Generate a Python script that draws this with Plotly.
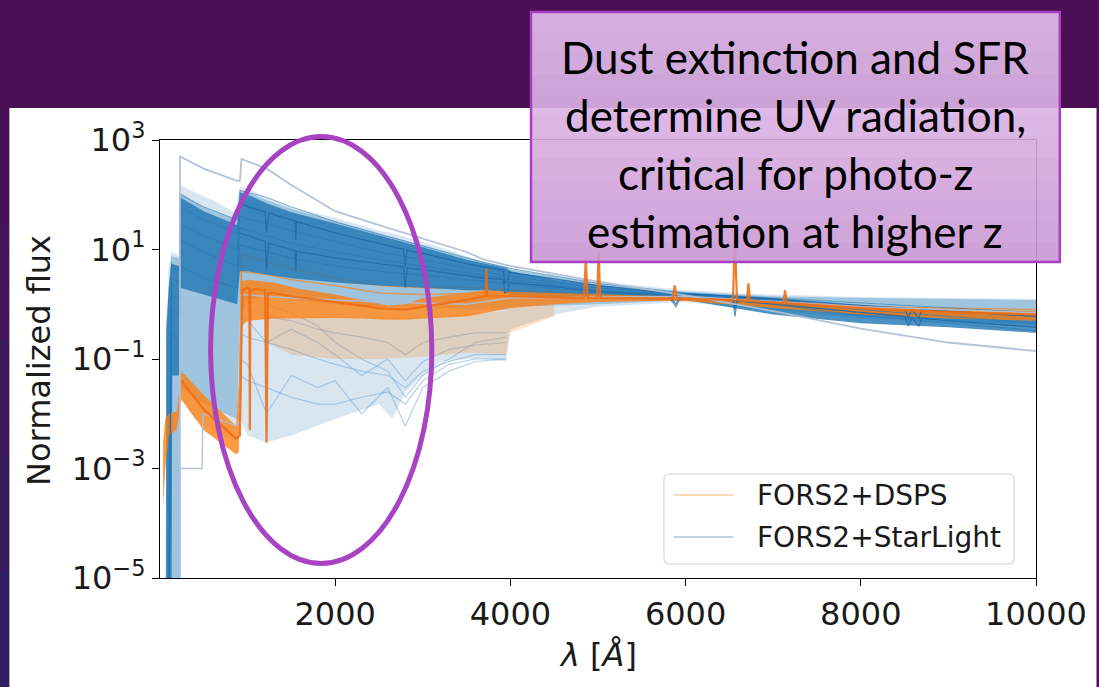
import plotly.graph_objects as go

# ---------------- data (wavelength in Angstrom, normalized flux) ----------------
# FORS2+StarLight : outer (faint) envelope
SL_WL = [60, 95, 130, 200, 215, 226, 228, 400, 600, 880, 912, 1000, 1216, 1500, 2000, 2500, 2650, 2800, 3000, 3200,
         3500, 3700, 3950, 4000, 4300, 4600, 5000, 6000, 7000, 8000, 9000, 10000]
SL_FAINT_HI = [1e-5, 4, 9, 8, 7.5, 7, 150, 110, 80, 45, 140, 130, 90, 60, 38, 22, 20, 17, 14, 11,
               7.5, 6, 5, 4.6, 3.8, 3.2, 2.6, 1.8, 1.5, 1.35, 1.3, 1.25]
SL_FAINT_LO = [1e-6, 1e-6, 1e-6, 1e-6, 1e-6, 1e-6, 0.02, 8e-3, 5e-3, 3e-3, 8e-3, 4e-3, 3e-3, 4e-3, 8e-3, 1.5e-2, 8e-3, 2.5e-2, 5e-2, 9e-2,
               0.1, 0.1, 0.09, 0.35, 0.5, 0.7, 0.9, 1.1, 0.75, 0.55, 0.45, 0.38]

# FORS2+StarLight : medium-density envelope
MID_WL = [70, 130, 140, 215, 226, 228, 500, 880, 912, 1000, 1216, 1500, 2000, 2500, 3000, 3500, 3950, 4000,
          5000, 6000, 7000, 8000, 9000, 10000]
MID_HI = [0.5, 8, 7.5, 7, 6, 110, 60, 35, 120, 110, 80, 55, 33, 20, 12, 7, 4.8, 4.3, 2.4, 1.7, 1.4, 1.3, 1.25, 1.2]
MID_LO = [1e-6, 1e-6, 1e-6, 1e-6, 1e-6, 0.03, 0.015, 0.008, 0.6, 1.2, 1.4, 1.2, 1.0, 0.9, 0.9, 0.8, 0.8, 0.9,
          1.0, 1.2, 0.8, 0.6, 0.5, 0.42]

# FORS2+StarLight : dense core
CORE_WL = [70, 100, 130, 140, 215, 226, 228, 500, 880, 912, 1000, 1216, 1500, 2000, 2500, 3000, 3500, 3700, 3950,
           4000, 4500, 5000, 5500, 6000, 7000, 8000, 9000, 10000]
CORE_HI = [0.3, 2, 6, 5.5, 5, 4.5, 90, 50, 28, 110, 100, 70, 48, 30, 18, 11, 6.5, 5.5, 4.6,
           4, 2.8, 2.2, 1.8, 1.6, 1.3, 0.85, 0.72, 0.62]
CORE_LO = [1e-6, 1e-6, 1e-6, 0.05, 0.05, 0.05, 2, 1.5, 1, 4, 4, 3.5, 3, 2.5, 2.2, 2, 1.8, 1.8, 1.7,
           1.5, 1.35, 1.3, 1.25, 1.2, 0.65, 0.45, 0.38, 0.3]

# FORS2+DSPS : dense core
DS_WL = [35, 60, 100, 190, 245, 500, 870, 900, 930, 1000, 1300, 1600, 2000, 2300, 2600, 2800, 3000, 3500, 3700,
         4000, 4500, 5000, 5500, 6000, 7000, 8000, 9000, 10000]
DS_HI = [3e-3, 8e-3, 1e-2, 1.1e-2, 6e-2, 2.2e-2, 6e-3, 4e-2, 2.6, 2.8, 2.5, 1.9, 1.5, 1.2, 0.95, 1.0, 1.3, 1.6, 1.8,
         1.7, 1.6, 1.5, 1.45, 1.4, 1.15, 0.95, 0.82, 0.75]
DS_LO = [2e-4, 1e-3, 4e-3, 5e-3, 1.8e-2, 5e-3, 1.8e-3, 2e-3, 0.4, 0.5, 0.55, 0.56, 0.56, 0.55, 0.52, 0.52, 0.55, 0.6, 0.7,
         0.85, 1.0, 1.1, 1.15, 1.15, 0.85, 0.65, 0.55, 0.5]

# FORS2+DSPS : faint lower tail
DSF_WL = [1230, 1500, 2000, 2500, 3000, 3500, 3950, 4000, 4500]
DSF_HI = [0.6, 0.6, 0.6, 0.56, 0.58, 0.65, 0.75, 0.9, 1.0]
DSF_LO = [0.2, 0.12, 0.1, 0.1, 0.11, 0.13, 0.12, 0.3, 0.6]

# individual StarLight spectra (grey extremes)
GREY1_WL = [200, 226, 228, 500, 880, 912, 930, 1216, 1500, 2000, 2500, 3000, 3500, 3700, 4000, 5000, 6000, 7000,
            8000, 9000, 10000]
GREY1 = [1e-6, 1e-6, 500, 300, 180, 180, 450, 300, 150, 50, 28, 16, 9, 6.5, 5, 2.6, 1.45, 0.75, 0.36, 0.2, 0.14]
GREY2_WL = [190, 226, 228, 480, 490, 880, 912, 930, 1500, 2500, 3500, 4000, 6000, 8000, 10000]
GREY2 = [1e-6, 1e-6, 1e-3, 1e-3, 1e-2, 6e-3, 8e-3, 1.5, 1.3, 1.1, 1.0, 1.3, 1.4, 0.9, 0.7]

# individual StarLight spectra (blue, smooth)
BL_WL = [100, 130, 226, 228, 500, 880, 912, 1216, 1500, 2000, 2500, 3000, 3500, 3700, 4000, 5000, 6000, 7000,
         8000, 9000, 10000]
BL1 = [1e-6, 5, 4, 100, 60, 35, 120, 90, 60, 32, 19, 11.5, 7, 5.8, 4.5, 2.4, 1.6, 1.3, 1.05, 0.85, 0.7]
BL2 = [1e-6, 3, 2.5, 60, 35, 20, 70, 50, 35, 20, 13, 8.5, 5.5, 4.8, 3.8, 2.2, 1.55, 1.25, 0.95, 0.75, 0.6]
BL3 = [1e-6, 1.5, 1.2, 30, 18, 10, 40, 30, 22, 14, 9, 6.5, 4.5, 4, 3.2, 2, 1.5, 1.15, 0.8, 0.6, 0.45]
BL4 = [1e-6, 0.8, 0.6, 15, 9, 5, 25, 18, 13, 9, 6.5, 5, 3.8, 3.4, 2.8, 1.8, 1.45, 1.05, 0.7, 0.5, 0.38]
BL5 = [1e-6, 0.3, 0.2, 5, 3, 2, 12, 9, 7, 5, 4, 3.4, 2.8, 2.6, 2.3, 1.6, 1.4, 1.0, 0.62, 0.45, 0.33]

# individual StarLight spectra (blue, with absorption features)
BX_WL = [912, 1000, 1200, 1216, 1240, 1500, 1540, 1550, 1560, 2000, 2500, 2780, 2800, 2820, 3000, 3500, 3700, 3920,
         3934, 3968, 3990, 4000, 4500, 5000, 5800, 5890, 5950, 6000, 6540, 6563, 6590, 7000, 8000, 8500, 8542, 8580,
         8662, 8700, 9000, 10000]
BX1 = [70, 60, 48, 20, 46, 35, 33, 15, 32, 20, 13, 10, 5, 9.5, 8.5, 5.5, 4.8, 4.2, 2.5, 2.6, 4.0, 3.8, 2.9, 2.2,
       1.6, 1.0, 1.55, 1.55, 1.4, 0.8, 1.35, 1.25, 0.95, 0.85, 0.55, 0.82, 0.55, 0.8, 0.75, 0.6]
BX2 = [20, 18, 14, 4, 13, 10, 9.5, 4, 9.3, 7, 5.5, 4.8, 2, 4.6, 4.3, 3.3, 3.0, 2.8, 1.6, 1.7, 2.6, 2.5, 2.1, 1.7,
       1.45, 0.9, 1.42, 1.4, 1.2, 0.6, 1.15, 1.0, 0.7, 0.6, 0.4, 0.58, 0.4, 0.56, 0.5, 0.38]

# faint, dusty StarLight spectra (end near 4000 A)
LB_WL = [912, 1000, 1216, 1500, 1800, 2000, 2300, 2600, 2800, 3000, 3300, 3600, 3950]
LB1 = [0.3, 0.25, 0.2, 0.15, 0.1, 0.08, 0.06, 0.05, 0.03, 0.06, 0.09, 0.12, 0.12]
LB2 = [0.05, 0.04, 0.03, 0.02, 0.015, 0.015, 0.02, 0.025, 0.015, 0.04, 0.08, 0.1, 0.1]
LB3 = [1.0, 0.8, 0.6, 0.5, 0.35, 0.3, 0.25, 0.2, 0.12, 0.2, 0.25, 0.3, 0.3]
LB4 = [2, 1.5, 1.0, 0.7, 0.4, 0.2, 0.1, 0.06, 0.02, 0.05, 0.1, 0.2, 0.25]
LB5 = [0.1, 0.08, 0.01, 0.05, 0.03, 0.04, 0.01, 0.03, 0.006, 0.03, 0.06, 0.09, 0.1]
LB6 = [0.6, 0.5, 0.2, 0.35, 0.2, 0.12, 0.05, 0.1, 0.04, 0.09, 0.15, 0.18, 0.2]

# individual DSPS spectra (orange) with Lyman absorption and emission lines
OR_WL = [245, 500, 870, 912, 940, 1000, 1020, 1026, 1032, 1100, 1200, 1216, 1232, 1300, 1500, 2000, 2500, 2800,
         3000, 3500, 3700, 3720, 3727, 3734, 4000, 4500, 4840, 4861, 4880, 4990, 5007, 5025, 5850, 5876, 5900,
         6540, 6563, 6586, 6700, 6717, 6735, 7115, 7136, 7155, 8000, 9000, 10000]
OR1 = [0.04, 0.012, 3.5e-3, 4e-3, 1.8, 2.0, 1.9, 5e-3, 1.8, 1.9, 1.8, 3e-3, 1.6, 1.6, 1.4, 1.1, 0.85, 0.8,
       0.9, 1.2, 1.4, 1.4, 4.5, 1.4, 1.4, 1.35, 1.3, 7, 1.3, 1.3, 9, 1.3, 1.25, 2.2, 1.25,
       1.2, 16, 1.2, 1.15, 2.4, 1.15, 1.05, 1.8, 1.05, 0.85, 0.72, 0.65]
OR2_WL = [912, 930, 1216, 1500, 2000, 2500, 3000, 3700, 4000, 5000, 6000, 8000, 10000]
OR2 = [0.05, 8, 6, 4.5, 3, 2.2, 2, 2, 1.8, 1.5, 1.4, 0.9, 0.8]
OR3 = [0.02, 4, 3.5, 2.8, 2.2, 1.6, 1.5, 1.6, 1.5, 1.35, 1.3, 0.8, 0.7]

X_TICKS = [2000, 4000, 6000, 8000, 10000]
Y_TICKS = [1e-5, 1e-3, 1e-1, 1e1, 1e3]
Y_TICK_TEXT = ["10<sup>−5</sup>", "10<sup>−3</sup>", "10<sup>−1</sup>", "10<sup>1</sup>", "10<sup>3</sup>"]

LEGEND_NAMES = ["FORS2+DSPS", "FORS2+StarLight"]
BOX_LINES = ["Dust extinction and SFR", "determine UV radiation,", "critical for photo-z", "estimation at higher z"]

# ---------------- layout geometry (pixels of the 1099x687 page) ----------------
W, H = 1099, 687
L, R, T, B = 160, 1043, 140, 578


def px(x):
    return (x - L) / (R - L)


def py(y):
    return (B - y) / (B - T)


def band(wl, hi, lo, color):
    return go.Scatter(x=list(wl) + list(wl)[::-1], y=list(hi) + list(lo)[::-1], mode="lines",
                      line=dict(width=0), fill="toself", fillcolor=color, hoverinfo="skip", showlegend=False)


def line(wl, fl, color, width=1.2):
    return go.Scatter(x=wl, y=fl, mode="lines", line=dict(color=color, width=width),
                      hoverinfo="skip", showlegend=False)


fig = go.Figure()
fig.add_trace(band(SL_WL, SL_FAINT_HI, SL_FAINT_LO, "rgba(31,119,180,0.18)"))
fig.add_trace(band(MID_WL, MID_HI, MID_LO, "rgba(31,119,180,0.30)"))
for lb in (LB1, LB2, LB3, LB4, LB5, LB6):
    fig.add_trace(line(LB_WL, lb, "rgba(120,170,215,0.55)", 1.2))
fig.add_trace(band(DSF_WL, DSF_HI, DSF_LO, "rgba(255,127,14,0.22)"))
fig.add_trace(line(OR2_WL, OR2, "rgba(255,127,14,0.6)", 1.5))
fig.add_trace(line(OR2_WL, OR3, "rgba(255,127,14,0.6)", 1.5))
fig.add_trace(band(CORE_WL, CORE_HI, CORE_LO, "rgba(31,119,180,0.80)"))
fig.add_trace(band(DS_WL, DS_HI, DS_LO, "rgba(255,127,14,0.78)"))
for bl in (BL1, BL2, BL3, BL4, BL5):
    fig.add_trace(line(BL_WL, bl, "rgba(31,119,180,0.55)", 1.0))
for bx in (BX1, BX2):
    fig.add_trace(line(BX_WL, bx, "rgba(25,100,165,0.7)", 1.2))
fig.add_trace(line(GREY2_WL, GREY2, "rgba(176,192,214,0.9)", 1.5))
fig.add_trace(line(GREY1_WL, GREY1, "rgba(176,192,214,0.95)", 1.8))
fig.add_trace(line(OR_WL, OR1, "rgba(240,110,20,0.9)", 2.2))

shapes = []
# white slide panel behind the chart
shapes.append(dict(type="rect", xref="paper", yref="paper", x0=px(8), x1=px(W + 5), y0=py(H + 5), y1=py(108),
                   fillcolor="white", line=dict(width=0), layer="below"))
# left purple strip shading
strip_cols = ["#4a0f54", "#441457", "#3c185a", "#351b5c", "#2f1e5e"]
seg = (H - 108) / len(strip_cols)
for i, c in enumerate(strip_cols):
    shapes.append(dict(type="rect", xref="paper", yref="paper", x0=px(-2), x1=px(8),
                       y0=py(108 + (i + 1) * seg), y1=py(108 + i * seg),
                       fillcolor=c, line=dict(width=0), layer="below"))

# text box with vertical gradient
bx0, bx1, by0, by1 = 533, 1068, 11, 263
n = 12
top_c = (230, 195, 240)
bot_c = (200, 150, 210)
for i in range(n):
    f = (i + 0.5) / n
    c = tuple(round(top_c[k] + (bot_c[k] - top_c[k]) * f) for k in range(3))
    ya = by0 + (by1 - by0) * i / n
    yb = by0 + (by1 - by0) * (i + 1) / n
    shapes.append(dict(type="rect", xref="paper", yref="paper", x0=px(bx0), x1=px(bx1), y0=py(yb), y1=py(ya),
                       fillcolor="rgba(%d,%d,%d,0.9)" % c, line=dict(width=0), layer="above"))
shapes.append(dict(type="rect", xref="paper", yref="paper", x0=px(bx0 + 1), x1=px(bx1 - 1), y0=py(by1 - 1),
                   y1=py(by0 + 1), line=dict(color="#a940c4", width=2.5), fillcolor="rgba(0,0,0,0)", layer="above"))

# highlight ellipse
shapes.append(dict(type="circle", xref="paper", yref="paper", x0=px(211), x1=px(434), y0=py(563.5), y1=py(136.5),
                   line=dict(color="#a843c3", width=5), layer="above"))

# legend frame (rounded) and samples
lx0, lx1, ly0, ly1, rr = 668, 1021, 474, 564, 6
path = ("M {a},{b} L {c},{b} Q {d},{b} {d},{e} L {d},{f} Q {d},{g} {c},{g} L {a},{g} Q {h},{g} {h},{f} "
        "L {h},{e} Q {h},{b} {a},{b} Z").format(
    a=px(lx0 + rr), b=py(ly0), c=px(lx1 - rr), d=px(lx1), e=py(ly0 + rr), f=py(ly1 - rr), g=py(ly1), h=px(lx0))
shapes.append(dict(type="path", xref="paper", yref="paper", path=path,
                   fillcolor="rgba(255,255,255,0.85)", line=dict(color="#d6d6d6", width=1.2), layer="above"))
shapes.append(dict(type="line", xref="paper", yref="paper", x0=px(678), x1=px(738), y0=py(495), y1=py(495),
                   line=dict(color="rgba(255,127,14,0.3)", width=2), layer="above"))
shapes.append(dict(type="line", xref="paper", yref="paper", x0=px(678), x1=px(738), y0=py(537), y1=py(537),
                   line=dict(color="#c4d0dc", width=2), layer="above"))

annotations = []
for name, yy in zip(LEGEND_NAMES, (495, 537)):
    annotations.append(dict(xref="paper", yref="paper", x=px(760), y=py(yy), xanchor="left", yanchor="middle",
                            text=name, showarrow=False, font=dict(family="DejaVu Sans", size=28, color="#1a1a1a")))
for txt, yy in zip(BOX_LINES, (57, 115, 173, 231)):
    annotations.append(dict(xref="paper", yref="paper", x=px((bx0 + bx1) / 2), y=py(yy), xanchor="center",
                            yanchor="middle", text=txt, showarrow=False,
                            font=dict(family="Lato", size=44, color="black")))
annotations.append(dict(xref="paper", yref="paper", x=px(601), y=py(655), xanchor="center", yanchor="middle",
                        text="<i>λ</i> [<i>Å</i>]", showarrow=False,
                        font=dict(family="DejaVu Sans", size=32, color="#1a1a1a")))
annotations.append(dict(xref="paper", yref="paper", x=px(38), y=py(360), xanchor="center", yanchor="middle",
                        text="Normalized flux", textangle=-90, showarrow=False,
                        font=dict(family="DejaVu Sans", size=32, color="#1a1a1a")))

fig.update_layout(
    width=W, height=H, margin=dict(l=L, r=W - R, t=T, b=H - B, pad=0),
    paper_bgcolor="#4a0f54", plot_bgcolor="white", showlegend=False,
    shapes=shapes, annotations=annotations,
    xaxis=dict(range=[0, 10000], tickvals=X_TICKS, ticktext=[str(v) for v in X_TICKS], ticks="outside",
               ticklen=7, tickwidth=1.3, tickcolor="black", showline=True, linecolor="black", linewidth=1.3,
               mirror=True, showgrid=False, zeroline=False,
               tickfont=dict(family="DejaVu Sans", size=32, color="#1a1a1a")),
    yaxis=dict(type="log", range=[-5, 3], tickvals=Y_TICKS, ticktext=Y_TICK_TEXT, ticks="outside",
               ticklen=7, tickwidth=1.3, tickcolor="black", showline=True, linecolor="black", linewidth=1.3,
               mirror=True, showgrid=False, zeroline=False,
               tickfont=dict(family="DejaVu Sans", size=32, color="#1a1a1a")),
)

fig.write_html("out.html")
